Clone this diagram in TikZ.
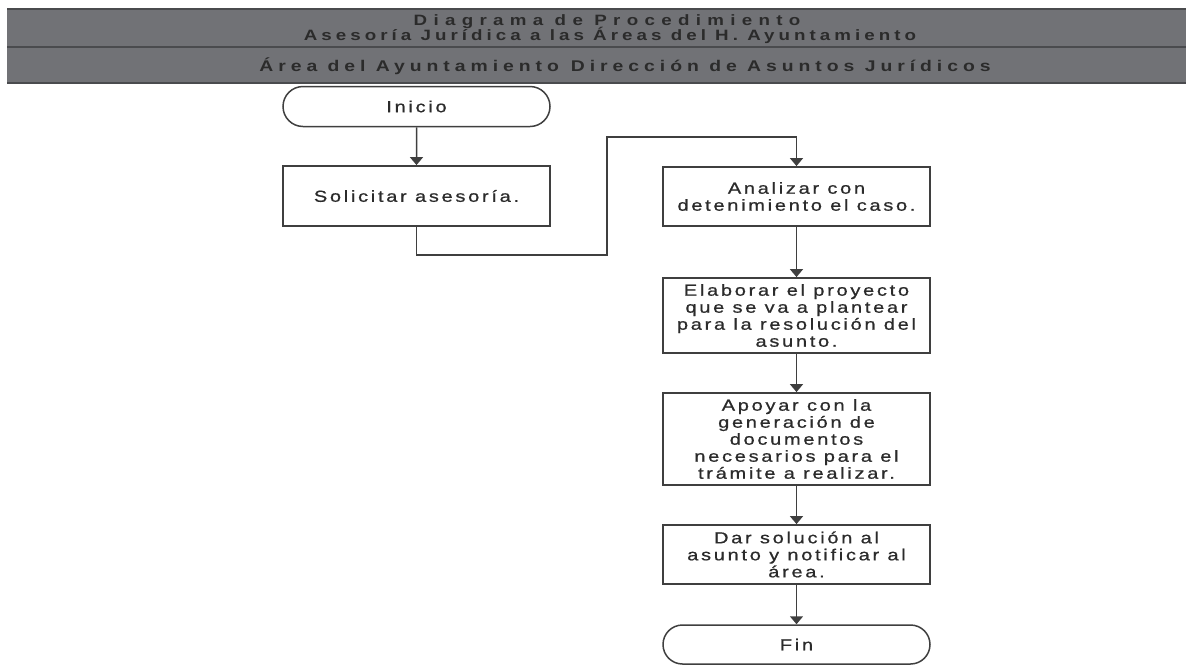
\documentclass[tikz,border=0pt]{standalone}
\usepackage{fontspec}
\setmainfont{Liberation Sans}
\newfontfamily\boxfont[FakeStretch=1.25, LetterSpace=17, FakeBold=0.8]{Liberation Sans}
\newfontfamily\headfont[FakeStretch=1.25, LetterSpace=27]{Liberation Sans Bold}
\newfontfamily\headwidefont[FakeStretch=1.25, LetterSpace=42]{Liberation Sans Bold}
\newfontfamily\lanefont[FakeStretch=1.25, LetterSpace=32]{Liberation Sans Bold}
\usetikzlibrary{arrows.meta,shapes.misc}
\definecolor{bandgray}{HTML}{717276}
\definecolor{banddark}{HTML}{4A4B4E}
\definecolor{ink}{HTML}{2B2B2B}
\definecolor{edge}{HTML}{3F3F3F}
\tikzset{
  stepbox/.style={draw=edge, line width=1.8pt, minimum width=267pt, inner sep=0pt,
    align=center, text=ink, font=\boxfont\fontsize{16pt}{17pt}\selectfont},
  terminal/.style={rounded rectangle, draw=edge, line width=1.5pt, minimum width=267pt,
    minimum height=40pt, inner sep=0pt, text=ink, font=\boxfont\fontsize{16pt}{17pt}\selectfont},
  flow/.style={draw=edge, line width=1.5pt, -{Triangle[width=13pt,length=8pt]}},
  headtext/.style={text=ink, inner sep=0pt, anchor=base, font=\headfont\fontsize{15pt}{15pt}\selectfont}
}
\begin{document}
\begin{tikzpicture}[x=1pt,y=-1pt]
\useasboundingbox (0,0) rectangle (1186,665);
% header bands
\fill[bandgray] (7,9) rectangle (1186,83);
\draw[banddark, line width=2pt] (7,9) -- (1186,9);
\draw[banddark, line width=2.5pt] (7,47) -- (1186,47);
\draw[banddark, line width=2pt] (7,83) -- (1186,83);
\node[headtext, font=\headwidefont\fontsize{15pt}{15pt}\selectfont] (title1) at (607,25.5) {Diagrama de Procedimiento};
\node[headtext] (title2) at (610,40.5) {Asesoría Jurídica a las Áreas del H. Ayuntamiento};
\node[headtext, font=\lanefont\fontsize{15.5pt}{16pt}\selectfont] (lanes) at (625,71) {Área del Ayuntamiento\hspace{12pt}Dirección de Asuntos Jurídicos};
% flow
\node[terminal] (inicio) at (416.5,106.5) {Inicio};
\node[stepbox, minimum height=60pt] (solicitar) at (416.5,196) {Solicitar asesoría.};
\node[stepbox, minimum height=59pt] (analizar) at (796.5,196.5) {Analizar con\\detenimiento el caso.};
\node[stepbox, minimum height=75pt] (elaborar) at (796.5,315.5) {Elaborar el proyecto\\que se va a plantear\\para la resolución del\\asunto.};
\node[stepbox, minimum height=92pt] (apoyar) at (796.5,439) {Apoyar con la\\generación de\\documentos\\necesarios para el\\trámite a realizar.};
\node[stepbox, minimum height=59pt] (dar) at (796.5,554.5) {Dar solución al\\asunto y notificar al\\área.};
\node[terminal, minimum height=39pt] (fin) at (796.5,644.5) {Fin};
\coordinate (j1) at (607,255);
\coordinate (j2) at (607,137);
\draw[flow] (inicio) -- (solicitar);
\draw[flow] (solicitar.south) |- (j1) -- (j2) -| (analizar.north);
\draw[flow] (analizar) -- (elaborar);
\draw[flow] (elaborar) -- (apoyar);
\draw[flow] (apoyar) -- (dar);
\draw[flow] (dar) -- (fin);
\end{tikzpicture}
\end{document}
